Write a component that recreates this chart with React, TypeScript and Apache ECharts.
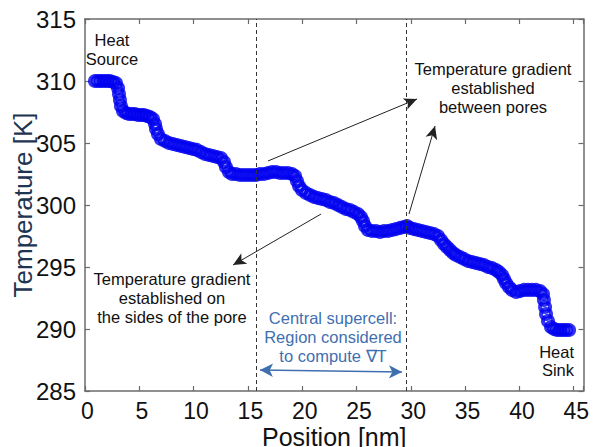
import React, { useEffect, useRef } from "react";
import * as echarts from "echarts";

// Temperature profile along the simulation cell
const positionNm = [
  0.92, 1.2, 1.47, 1.75, 2.03, 2.3, 2.58, 2.85,
  3.04, 3.13, 3.22, 3.31,
  3.5, 3.78, 4.05, 4.33, 4.6, 4.88, 5.16, 5.43, 5.71, 5.99, 6.26,
  6.45, 6.54, 6.72,
  7.0, 7.37, 7.73, 8.1, 8.47, 8.84, 9.21, 9.58, 9.94, 10.31, 10.68, 11.05, 11.42, 11.79, 12.15, 12.52, 12.8, 12.98, 13.26,
  13.54, 13.9, 14.27, 14.64, 15.01, 15.38, 15.75, 16.11, 16.48, 16.85, 17.22, 17.59, 17.96, 18.32, 18.69, 19.06, 19.34,
  19.52, 19.71, 19.98, 20.35, 20.72, 21.09, 21.45, 21.82, 22.19, 22.56, 22.93, 23.3, 23.66, 24.03, 24.4, 24.77, 25.14, 25.41, 25.6, 25.78, 26.06,
  26.43, 26.8, 27.16, 27.53, 27.9, 28.27, 28.64, 29.01, 29.37, 29.65, 29.93, 30.29, 30.66, 31.03, 31.4, 31.77, 32.14, 32.5,
  32.78, 33.06, 33.33, 33.61, 33.89, 34.16, 34.53, 34.9, 35.27, 35.64, 36.0, 36.37, 36.74, 37.11, 37.48, 37.85, 38.12, 38.4, 38.58, 38.77, 39.04, 39.32,
  39.69, 40.06, 40.42, 40.79, 41.16, 41.53, 41.9, 42.17,
  42.26, 42.36, 42.45, 42.63,
  42.91, 43.19, 43.46, 43.74, 44.01, 44.29, 44.57,
];

const temperatureK = [
  310.0, 310.0, 310.0, 310.0, 310.0, 310.0, 309.92, 309.84,
  309.44, 308.95, 308.47, 307.98,
  307.58, 307.42, 307.34, 307.34, 307.34, 307.26, 307.26, 307.26, 307.18, 307.1, 306.94,
  306.53, 306.13, 305.73,
  305.32, 305.16, 305.0, 304.92, 304.84, 304.76, 304.68, 304.6, 304.52, 304.44, 304.27, 304.11, 304.03, 303.95, 303.87, 303.79, 303.47, 303.06, 302.66,
  302.5, 302.5, 302.42, 302.42, 302.42, 302.42, 302.42, 302.5, 302.5, 302.58, 302.66, 302.66, 302.58, 302.58, 302.58, 302.5, 302.34,
  301.94, 301.53, 301.21, 300.97, 300.81, 300.65, 300.56, 300.48, 300.4, 300.24, 300.16, 300.0, 299.84, 299.68, 299.6, 299.44, 299.27, 299.03, 298.71, 298.31, 297.98,
  297.9, 297.9, 297.82, 297.9, 297.9, 297.98, 298.06, 298.15, 298.23, 298.31, 298.15, 298.06, 297.98, 297.9, 297.82, 297.74, 297.66, 297.5,
  297.18, 296.85, 296.61, 296.37, 296.13, 295.97, 295.81, 295.65, 295.48, 295.4, 295.32, 295.24, 295.16, 295.0, 294.92, 294.76, 294.6, 294.35, 294.03, 293.71, 293.39, 293.15,
  292.98, 293.06, 293.15, 293.15, 293.15, 293.15, 293.06, 292.82,
  292.34, 291.77, 291.21, 290.65,
  290.16, 290.0, 289.92, 289.92, 289.92, 289.92, 289.92,
];

// Boundaries of the central supercell [nm]
const supercellBounds = [15.81, 29.56];

// Annotation arrows: [fromX, fromY, toX, toY] in data units
const gradientArrows = [
  [16.85, 303.55, 30.57, 308.55],
  [29.83, 299.27, 32.23, 306.37],
  [21.73, 299.27, 13.63, 295.16],
];
const supercellSpan = [16.11, 286.69, 29.19, 286.53];

const xTicks = [0, 5, 10, 15, 20, 25, 30, 35, 40, 45];

const FONT = "'Liberation Sans', Arial, sans-serif";
const AXIS_GREY = "#6b6b6b";
const MARK_BLUE = "#0000f0";
const NOTE_BLUE = "#3f6fb0";

export default function App() {
  const ref = useRef<HTMLDivElement>(null);

  useEffect(() => {
    if (!ref.current) return;
    const chart = echarts.init(ref.current, null, { renderer: "svg" });

    const points = positionNm.map((x, i) => [x, temperatureK[i]]);

    const axisLine = { onZero: false, lineStyle: { color: AXIS_GREY, width: 1.5 } };
    const axisTick = { inside: true, length: 5, lineStyle: { color: AXIS_GREY, width: 1.2 } };

    const arrowLines = gradientArrows.map(([x1, y1, x2, y2]) => [
      { coord: [x1, y1], symbol: "none", lineStyle: { color: "#222", width: 1, type: "solid" } },
      { coord: [x2, y2], symbol: "arrow", symbolSize: [9, 13] },
    ]);

    const spanLine = [
      {
        coord: [supercellSpan[0], supercellSpan[1]],
        symbol: "arrow",
        symbolSize: [10, 13],
        lineStyle: { color: NOTE_BLUE, width: 1.5, type: "solid" },
      },
      { coord: [supercellSpan[2], supercellSpan[3]], symbol: "arrow", symbolSize: [10, 13] },
    ];

    const boundLines = supercellBounds.map((x) => ({
      xAxis: x,
      symbol: "none",
      lineStyle: { color: "#333", width: 1, type: [4, 3] },
    }));

    chart.setOption({
      animation: false,
      backgroundColor: "#ffffff",
      grid: {
        left: 85,
        top: 19,
        right: 9.5,
        bottom: 56,
        containLabel: false,
        outerBoundsMode: "none",
      },
      xAxis: [
        {
          type: "value",
          position: "bottom",
          min: 0,
          max: 45.9,
          interval: 5,
          axisLine,
          axisTick,
          splitLine: { show: false },
          axisLabel: {
            color: "#111",
            fontSize: 23,
            lineHeight: 23,
            fontFamily: FONT,
            margin: 8,
            padding: [0, 0, 0, 5],
            formatter: (v: number) => (xTicks.includes(v) ? String(v) : ""),
          },
          name: "Position [nm]",
          nameLocation: "middle",
          nameGap: 33,
          nameMoveOverlap: false,
          nameTextStyle: { color: "#111", fontSize: 25, lineHeight: 25, fontFamily: FONT },
        },
        {
          type: "value",
          position: "top",
          min: 0,
          max: 45.9,
          interval: 5,
          axisLine,
          axisTick,
          axisLabel: { show: false },
          splitLine: { show: false },
        },
      ],
      yAxis: [
        {
          type: "value",
          position: "left",
          min: 285,
          max: 315,
          interval: 5,
          axisLine,
          axisTick,
          splitLine: { show: false },
          axisLabel: { color: "#111", fontSize: 24, fontFamily: FONT, margin: 9 },
          name: "Temperature [K]",
          nameLocation: "middle",
          nameGap: 49,
          nameMoveOverlap: false,
          nameTextStyle: { color: "#1e3552", fontSize: 26, fontFamily: FONT },
        },
        {
          type: "value",
          position: "right",
          min: 285,
          max: 315,
          interval: 5,
          axisLine,
          axisTick,
          axisLabel: { show: false },
          splitLine: { show: false },
        },
      ],
      series: [
        {
          type: "scatter",
          data: points,
          symbol: "circle",
          symbolSize: 10,
          itemStyle: { color: "rgba(0,0,0,0)", borderColor: MARK_BLUE, borderWidth: 4 },
          markLine: {
            silent: true,
            symbol: ["none", "none"],
            label: { show: false },
            data: [...boundLines, ...arrowLines, spanLine],
          },
        },
      ],
      graphic: [
        {
          type: "text",
          x: 112,
          y: 49.5,
          style: {
            text: "Heat\nSource",
            font: `16.5px ${FONT}`,
            fill: "#111",
            align: "center",
            verticalAlign: "middle",
            lineHeight: 18.5,
          },
        },
        {
          type: "text",
          x: 574,
          y: 361,
          style: {
            text: "Heat\nSink",
            font: `16.5px ${FONT}`,
            fill: "#111",
            align: "right",
            verticalAlign: "middle",
            lineHeight: 18.5,
          },
        },
        {
          type: "text",
          x: 493,
          y: 88,
          style: {
            text: "Temperature gradient\nestablished\nbetween pores",
            font: `16.5px ${FONT}`,
            fill: "#111",
            align: "center",
            verticalAlign: "middle",
            lineHeight: 19,
          },
        },
        {
          type: "text",
          x: 172,
          y: 297.5,
          style: {
            text: "Temperature gradient\nestablished on\nthe sides of the pore",
            font: `16.5px ${FONT}`,
            fill: "#111",
            align: "center",
            verticalAlign: "middle",
            lineHeight: 19,
          },
        },
        {
          type: "text",
          x: 333,
          y: 337,
          style: {
            text: "Central supercell:\nRegion considered\nto compute \u2207T",
            font: `16.5px ${FONT}`,
            fill: NOTE_BLUE,
            align: "center",
            verticalAlign: "middle",
            lineHeight: 19,
          },
        },
      ],
    });

    return () => chart.dispose();
  }, []);

  return (
    <div
      ref={ref}
      style={{ position: "fixed", left: 0, top: 0, width: 593, height: 447, background: "#fff" }}
    />
  );
}
